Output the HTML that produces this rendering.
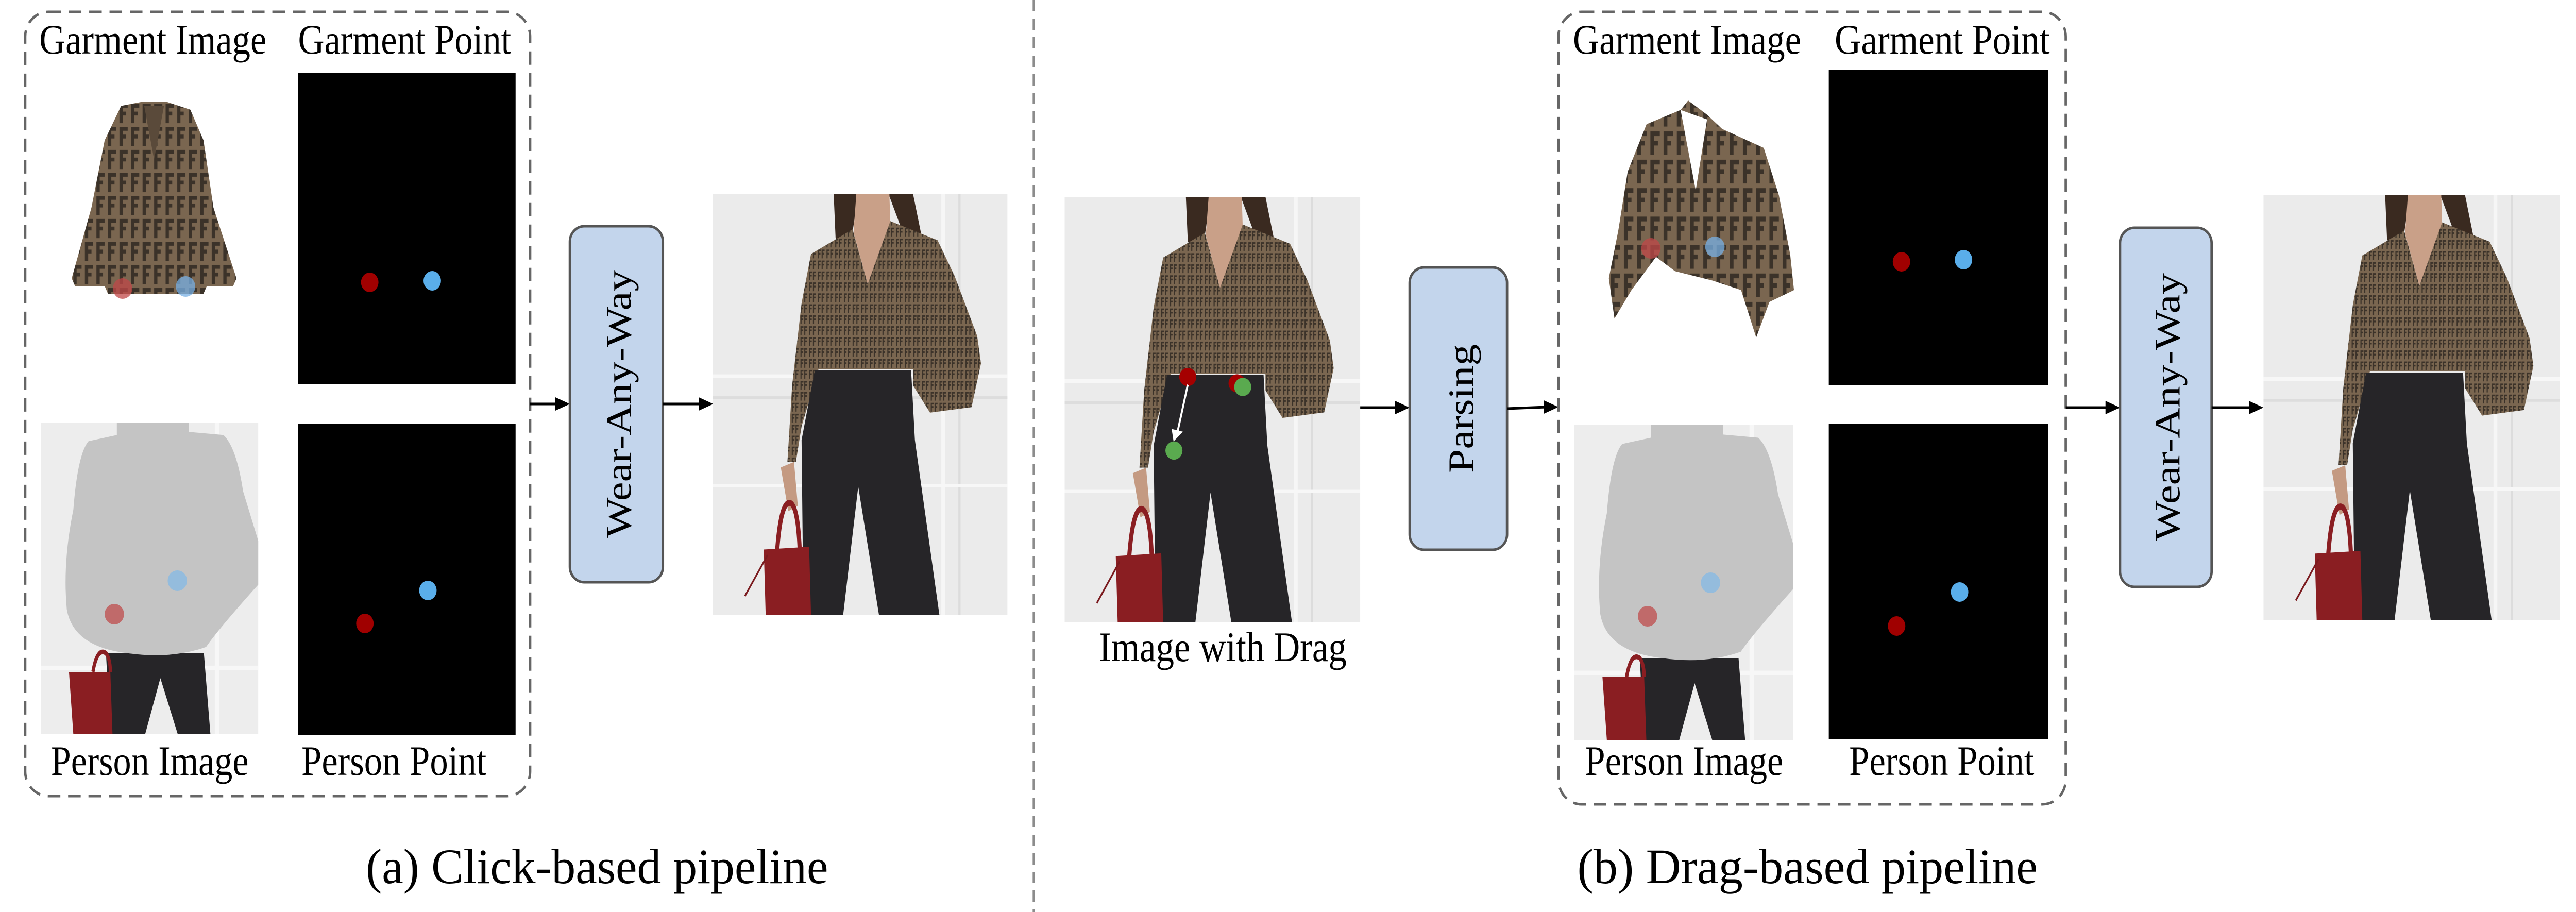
<!DOCTYPE html>
<html><head><meta charset="utf-8"><style>
html,body{margin:0;padding:0;background:#fff;width:100%;height:100%;overflow:hidden;}
svg.main{display:block;position:absolute;left:0;top:0;width:100vw;height:100vh;}
text{font-family:"Liberation Serif",serif;fill:#000;}
</style></head><body>
<svg class="main" viewBox="0 0 5316 1770" preserveAspectRatio="none" xmlns="http://www.w3.org/2000/svg">
<defs>
  <pattern id="ff" width="46" height="40" patternUnits="userSpaceOnUse">
    <rect width="46" height="40" fill="#7a6650"/>
    <path d="M4 4h16v6h-10v6h8v6h-8v14h-6z M24 4h16v6h-10v6h8v6h-8v14h-6z" fill="#3b3229"/>
  </pattern>
  <pattern id="ffs" width="14" height="12" patternUnits="userSpaceOnUse">
    <rect width="14" height="12" fill="#7a6650"/>
    <path d="M1 1h5v2h-3v2h2v2h-2v4h-2z M8 1h5v2h-3v2h2v2h-2v4h-2z" fill="#3b3229"/>
  </pattern>
  <symbol id="person" viewBox="0 0 1560 1540" preserveAspectRatio="none">
    <rect width="1560" height="1540" fill="#ebebeb"/>
    <rect x="1210" y="0" width="20" height="1540" fill="#f6f6f6"/>
    <rect x="1300" y="0" width="12" height="1540" fill="#dcdcdc"/>
    <rect x="0" y="660" width="1560" height="14" fill="#f7f7f7"/>
    <rect x="0" y="740" width="1560" height="10" fill="#dddddd"/>
    <rect x="0" y="1060" width="1560" height="12" fill="#f7f7f7"/>
    <path d="M640 0 L770 0 L740 140 L680 200 L650 160 Z" fill="#3a2a20"/>
    <path d="M930 0 L1060 0 L1110 170 L1000 130 Z" fill="#3a2a20"/>
    <path d="M760 0 L935 0 L940 110 L820 330 L745 140 Z" fill="#c9a088"/>
    <path d="M520 220 L740 130 L820 330 L940 100 L1190 170 L1280 300 L1400 520 L1420 620 L1370 780 L1150 800 L1060 700 L1060 640 L560 640 L470 850 L440 980 L395 980 L420 700 L470 400 Z" fill="url(#ff)"/>
    <path d="M540 645 L1050 645 L1070 900 L1200 1540 L880 1540 L770 1070 L690 1540 L480 1540 L470 900 Z" fill="#262528"/>
    <path d="M360 1000 L430 980 L450 1140 L400 1160 Z" fill="#c49a82"/>
    <path d="M340 1310 Q360 1120 410 1130 Q450 1140 460 1300" stroke="#8a1e22" stroke-width="22" fill="none"/>
    <path d="M270 1300 L510 1290 L520 1540 L280 1540 Z" fill="#8a1e22"/>
    <path d="M290 1320 L170 1470" stroke="#7a1a1e" stroke-width="8"/>
  </symbol>
  <symbol id="masked" viewBox="0 0 100 100" preserveAspectRatio="none">
    <rect width="100" height="100" fill="#ededed"/>
    <rect x="80" width="2" height="100" fill="#f7f7f7"/>
    <rect y="78" width="100" height="1.5" fill="#f7f7f7"/>
    <path d="M41 0 L47 0 L46 8 L42 8 Z" fill="#3a2a20"/>
    <path d="M58 0 L63 0 L64 8 L59 8 Z" fill="#3a2a20"/>
    <rect x="47" y="0" width="11" height="6" fill="#c9a088"/>
    <path d="M30 74 L75 74 L78 100 L63 100 L55 82 L48 100 L32 100 Z" fill="#262528"/>
    <path d="M22 6 L35 4 L35 0 L68 0 L68 3 L84 4 Q90 8 93 22 L100 38 L100 52 Q82 66 76 72 Q60 76 40 74 Q15 72 12 60 Q10 45 15 28 Q17 10 22 6 Z" fill="#c4c4c4"/>
    <path d="M24 80 Q26 72 30 74 Q32 76 32 80" stroke="#8a1e22" stroke-width="1.5" fill="none"/>
    <path d="M13 80 L32 80 L33 100 L15 100 Z" fill="#8a1e22"/>
  </symbol>
</defs>

<line x1="2133" y1="0" x2="2133" y2="1770" stroke="#8c8c8c" stroke-width="4" stroke-dasharray="22,14"/>

<!-- ===== (a) ===== -->
<rect x="52" y="23" width="1042" height="1522" rx="48" fill="none" stroke="#666" stroke-width="5" stroke-dasharray="26,16"/>
<text x="81" y="104" font-size="82" textLength="469" lengthAdjust="spacingAndGlyphs">Garment Image</text>
<text x="615" y="104" font-size="82" textLength="440" lengthAdjust="spacingAndGlyphs">Garment Point</text>
<svg x="148" y="198" width="340" height="372" viewBox="0 0 100 100" preserveAspectRatio="none">
  <path d="M30 2 L42 0 L58 0 L72 4 L80 20 L86 55 L100 92 L98 96 L82 96 L80 100 L22 100 L20 96 L2 96 L0 92 L12 55 L20 20 Z" fill="url(#ffs)"/>
  <path d="M44 2 L50 30 L56 2 Z" fill="#5a4a3a"/>
</svg>
<circle cx="253" cy="560" r="20" fill="#c04848" opacity="0.75"/>
<circle cx="383" cy="556" r="20" fill="#78b0e4" opacity="0.75"/>
<rect x="615" y="141" width="449" height="605" fill="#000"/>
<ellipse cx="763" cy="548" rx="18" ry="19" fill="#a00000"/>
<ellipse cx="892" cy="545" rx="18" ry="19" fill="#5aaeea"/>
<use href="#masked" x="84" y="820" width="449" height="605"/>
<circle cx="236" cy="1192" r="20" fill="#c05a5a" opacity="0.85"/>
<circle cx="366" cy="1127" r="20" fill="#8fbbe0" opacity="0.9"/>
<rect x="615" y="822" width="449" height="605" fill="#000"/>
<ellipse cx="753" cy="1210" rx="18" ry="19" fill="#a00000"/>
<ellipse cx="883" cy="1146" rx="18" ry="19" fill="#5aaeea"/>
<text x="105" y="1504" font-size="82" textLength="408" lengthAdjust="spacingAndGlyphs">Person Image</text>
<text x="622" y="1504" font-size="82" textLength="382" lengthAdjust="spacingAndGlyphs">Person Point</text>

<line x1="1094" y1="784" x2="1150" y2="784" stroke="#000" stroke-width="5"/>
<path d="M1176 784 L1146 771 L1146 797 Z" fill="#000"/>
<rect x="1176" y="439" width="192" height="691" rx="30" fill="#c3d5ec" stroke="#555" stroke-width="5"/>
<text transform="translate(1302 784) rotate(-90)" text-anchor="middle" font-size="74" textLength="520" lengthAdjust="spacingAndGlyphs">Wear-Any-Way</text>
<line x1="1368" y1="784" x2="1446" y2="784" stroke="#000" stroke-width="5"/>
<path d="M1472 784 L1442 771 L1442 797 Z" fill="#000"/>
<use href="#person" x="1471" y="376" width="608" height="818"/>
<text x="1232" y="1714" font-size="96" text-anchor="middle" textLength="954" lengthAdjust="spacingAndGlyphs">(a) Click-based pipeline</text>

<!-- ===== (b) ===== -->
<use href="#person" x="2197" y="382" width="610" height="826"/>
<svg x="2197" y="382" width="610" height="826" viewBox="0 0 1560 1540" preserveAspectRatio="none">
  <ellipse cx="650" cy="652" rx="45" ry="33" fill="#a50000"/>
  <ellipse cx="910" cy="675" rx="45" ry="33" fill="#a50000"/>
  <ellipse cx="940" cy="688" rx="45" ry="33" fill="#5aaa4f"/>
  <line x1="650" y1="680" x2="596" y2="850" stroke="#fff" stroke-width="10"/>
  <path d="M575 885 L565 840 L625 850 Z" fill="#fff"/>
  <ellipse cx="577" cy="918" rx="45" ry="33" fill="#5aaa4f"/>
</svg>
<text x="2268" y="1283" font-size="82" textLength="511" lengthAdjust="spacingAndGlyphs">Image with Drag</text>

<line x1="2807" y1="791" x2="2883" y2="791" stroke="#000" stroke-width="5"/>
<path d="M2909 791 L2879 778 L2879 804 Z" fill="#000"/>
<rect x="2909" y="519" width="201" height="548" rx="30" fill="#c3d5ec" stroke="#555" stroke-width="5"/>
<text transform="translate(3040 793) rotate(-90)" text-anchor="middle" font-size="74" textLength="250" lengthAdjust="spacingAndGlyphs">Parsing</text>
<line x1="3110" y1="793" x2="3190" y2="790" stroke="#000" stroke-width="5"/>
<path d="M3216 790 L3186 777 L3186 803 Z" fill="#000"/>

<rect x="3216" y="23" width="1047" height="1538" rx="48" fill="none" stroke="#666" stroke-width="5" stroke-dasharray="26,16"/>
<text x="3246" y="104" font-size="82" textLength="471" lengthAdjust="spacingAndGlyphs">Garment Image</text>
<text x="3786" y="104" font-size="82" textLength="444" lengthAdjust="spacingAndGlyphs">Garment Point</text>
<svg x="3320" y="195" width="390" height="460" viewBox="0 0 100 100" preserveAspectRatio="none">
  <path d="M20 10 L38 4 L42 0 L52 6 L60 12 L82 20 L90 40 L96 65 L98 80 L85 85 L78 100 L70 80 L55 76 L35 72 L25 66 L12 80 L3 92 L0 75 L5 55 L10 30 Z" fill="url(#ffs)"/>
  <path d="M38 4 L46 38 L52 8 Z" fill="#fff"/>
</svg>
<circle cx="3407" cy="482" r="20" fill="#c04848" opacity="0.75"/>
<circle cx="3539" cy="479" r="20" fill="#78b0e4" opacity="0.75"/>
<rect x="3774" y="136" width="453" height="611" fill="#000"/>
<ellipse cx="3924" cy="508" rx="18" ry="19" fill="#a00000"/>
<ellipse cx="4052" cy="504" rx="18" ry="19" fill="#5aaeea"/>
<use href="#masked" x="3248" y="825" width="453" height="611"/>
<circle cx="3400" cy="1196" r="20" fill="#c05a5a" opacity="0.85"/>
<circle cx="3530" cy="1131" r="20" fill="#8fbbe0" opacity="0.9"/>
<rect x="3774" y="823" width="453" height="611" fill="#000"/>
<ellipse cx="3914" cy="1215" rx="18" ry="19" fill="#a00000"/>
<ellipse cx="4044" cy="1149" rx="18" ry="19" fill="#5aaeea"/>
<text x="3271" y="1504" font-size="82" textLength="409" lengthAdjust="spacingAndGlyphs">Person Image</text>
<text x="3816" y="1504" font-size="82" textLength="382" lengthAdjust="spacingAndGlyphs">Person Point</text>

<line x1="4263" y1="791" x2="4349" y2="791" stroke="#000" stroke-width="5"/>
<path d="M4375 791 L4345 778 L4345 804 Z" fill="#000"/>
<rect x="4375" y="442" width="189" height="697" rx="30" fill="#c3d5ec" stroke="#555" stroke-width="5"/>
<text transform="translate(4498 790) rotate(-90)" text-anchor="middle" font-size="74" textLength="520" lengthAdjust="spacingAndGlyphs">Wear-Any-Way</text>
<line x1="4564" y1="791" x2="4645" y2="791" stroke="#000" stroke-width="5"/>
<path d="M4671 791 L4641 778 L4641 804 Z" fill="#000"/>
<use href="#person" x="4671" y="378" width="612" height="825"/>
<text x="3730" y="1714" font-size="96" text-anchor="middle" textLength="950" lengthAdjust="spacingAndGlyphs">(b) Drag-based pipeline</text>
</svg>
</body></html>
